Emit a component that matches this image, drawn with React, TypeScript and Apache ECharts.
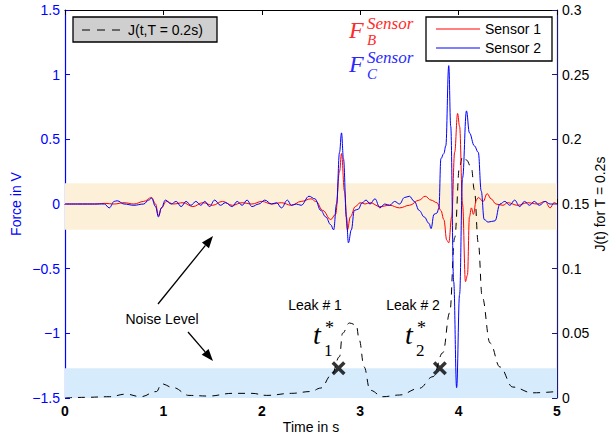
import React, { useEffect, useRef } from "react";
import * as echarts from "echarts";

const X_MIN = 0;
const X_MAX = 5;
const FORCE_MIN = -1.5;
const FORCE_MAX = 1.5;
const J_MIN = 0;
const J_MAX = 0.3;

const TIME_S1 = [0, 0.3, 0.4, 0.5, 0.6, 0.7, 0.8, 0.88, 0.92, 0.95, 0.98, 1.03, 1.1, 1.2, 1.3, 1.4, 1.5, 1.6, 1.7, 1.8, 1.9, 2.0, 2.1, 2.2, 2.3, 2.4, 2.5, 2.55, 2.62, 2.7, 2.75, 2.79, 2.81, 2.84, 2.87, 2.9, 2.95, 3.0, 3.05, 3.1, 3.2, 3.3, 3.4, 3.5, 3.6, 3.66, 3.72, 3.78, 3.82, 3.85, 3.88, 3.9, 3.93, 3.96, 3.99, 4.01, 4.04, 4.07, 4.09, 4.11, 4.13, 4.15, 4.18, 4.2, 4.25, 4.29, 4.33, 4.38, 4.45, 4.5, 4.6, 4.7, 4.8, 4.88, 4.93, 4.97, 5.0];
const SENSOR1 = [0, 0, 0.005, 0, 0.01, 0, 0.02, 0.05, 0.0, -0.09, -0.03, 0.02, 0.0, 0.01, -0.02, 0.01, -0.01, 0.02, -0.01, 0.01, 0.0, 0.02, 0.0, 0.01, -0.01, 0.02, 0.04, 0.02, -0.05, -0.12, -0.08, 0.25, 0.39, 0.1, -0.2, -0.1, -0.02, 0.01, 0.0, 0.01, -0.02, -0.01, -0.03, -0.01, 0.03, 0.06, 0.03, 0.01, -0.05, -0.12, -0.28, -0.3, -0.1, 0.4, 0.7, 0.6, 0.0, -0.6, -0.55, -0.1, -0.03, -0.08, 0.03, 0.05, 0.02, 0.08, 0.04, 0.0, -0.01, 0.01, -0.01, 0.01, 0.0, 0.02, -0.03, 0.01, 0.0];

const TIME_S2 = [0, 0.3, 0.4, 0.45, 0.5, 0.53, 0.6, 0.7, 0.8, 0.85, 0.88, 0.92, 0.95, 0.98, 1.02, 1.08, 1.13, 1.18, 1.23, 1.28, 1.33, 1.38, 1.42, 1.47, 1.52, 1.58, 1.63, 1.7, 1.75, 1.8, 1.85, 1.9, 1.97, 2.03, 2.1, 2.15, 2.2, 2.26, 2.3, 2.35, 2.4, 2.48, 2.54, 2.6, 2.65, 2.7, 2.73, 2.76, 2.79, 2.81, 2.83, 2.86, 2.88, 2.91, 2.94, 2.98, 3.02, 3.06, 3.1, 3.15, 3.2, 3.25, 3.3, 3.35, 3.4, 3.45, 3.5, 3.55, 3.6, 3.65, 3.7, 3.72, 3.75, 3.78, 3.8, 3.82, 3.85, 3.87, 3.9, 3.92, 3.95, 3.98, 4.01, 4.04, 4.08, 4.11, 4.16, 4.2, 4.23, 4.26, 4.3, 4.37, 4.42, 4.47, 4.52, 4.57, 4.62, 4.67, 4.72, 4.77, 4.82, 4.88, 4.93, 5.0];
const SENSOR2 = [0, 0, 0.0, -0.03, 0.02, 0.025, 0.0, -0.01, 0.0, 0.03, 0.045, -0.02, -0.1, -0.03, 0.03, 0.0, 0.02, -0.02, 0.02, -0.01, 0.02, -0.01, 0.02, -0.02, 0.03, -0.01, 0.01, -0.02, 0.02, -0.01, 0.03, -0.02, 0.0, 0.03, 0.0, 0.01, -0.03, 0.03, -0.01, 0.0, -0.01, 0.06, 0.04, -0.05, -0.1, -0.16, -0.2, 0.0, 0.4, 0.55, 0.35, -0.1, -0.3, -0.2, -0.05, -0.04, 0.01, 0.03, 0.0, 0.04, -0.03, 0.0, -0.01, 0.02, 0.0, 0.05, 0.06, 0.02, -0.05, -0.1, -0.15, -0.19, -0.08, -0.07, -0.03, 0.35, 0.39, 0.45, 1.07, 0.6, -0.6, -1.42, -0.7, 0.2, 0.72, 0.55, 0.45, 0.4, 0.1, -0.12, -0.14, -0.13, 0.0, 0.02, -0.01, 0.03, -0.02, 0.02, -0.01, 0.02, -0.01, 0.02, 0.0, 0.0];

const TIME_J = [0, 0.2, 0.45, 0.62, 0.77, 0.93, 0.98, 1.1, 1.26, 1.46, 1.7, 1.9, 2.05, 2.3, 2.5, 2.6, 2.71, 2.79, 2.82, 2.89, 2.96, 2.99, 3.04, 3.1, 3.23, 3.4, 3.6, 3.74, 3.84, 3.91, 3.96, 4.01, 4.04, 4.08, 4.13, 4.16, 4.2, 4.24, 4.32, 4.42, 4.55, 4.75, 5.0];
const J_VALUES = [0, 0.0005, 0.001, 0.003, 0.001, 0.005, 0.011, 0.008, 0.002, 0.0015, 0.0036, 0.0036, 0.002, 0.0036, 0.005, 0.0077, 0.018, 0.032, 0.05, 0.058, 0.0565, 0.045, 0.024, 0.006, 0.001, 0.0023, 0.0075, 0.0165, 0.035, 0.066, 0.124, 0.179, 0.1866, 0.184, 0.178, 0.161, 0.12, 0.078, 0.0425, 0.024, 0.0085, 0.004, 0.005];

const LEAK_TIMES = [2.78, 3.81];
const LEAK_THRESHOLD = 0.023;
const NOISE_BAND_FORCE = [-0.2, 0.16];
const NOISE_BAND_J = [0, 0.023];

const FONT = "Liberation Sans";
const SERIF = "Liberation Serif";

const zip = (xs: number[], ys: number[]) => xs.map((x, i) => [x, ys[i]]);
const fmtMinus = (v: number) => String(Number(v.toFixed(2))).replace("-", "\u2212");

export default function App() {
  const ref = useRef<HTMLDivElement>(null);
  useEffect(() => {
    if (!ref.current) return;
    const chart = echarts.init(ref.current, null, { renderer: "svg" });

    const xMark = "path://M0,3.5 L3.5,0 L10,6.5 L16.5,0 L20,3.5 L13.5,10 L20,16.5 L16.5,20 L10,13.5 L3.5,20 L0,16.5 L6.5,10 Z";

    const arrow = (x1: number, y1: number, x2: number, y2: number) => {
      const dx = x2 - x1, dy = y2 - y1;
      const len = Math.hypot(dx, dy);
      const ux = dx / len, uy = dy / len;
      const hl = 12, hw = 4.5;
      const bx = x2 - hl * ux, by = y2 - hl * uy;
      const nx = -uy, ny = ux;
      return [
        { type: "line", shape: { x1, y1, x2: bx, y2: by }, style: { stroke: "#000", lineWidth: 1.3 }, z: 100 },
        {
          type: "polygon",
          shape: { points: [[x2, y2], [bx + hw * nx, by + hw * ny], [bx - hw * nx, by - hw * ny]] },
          style: { fill: "#000" },
          z: 100,
        },
      ];
    };

    const tStar = (x: number, sub: string) => [
      { type: "text", x, y: 334, z: 100, style: { text: "t", font: `italic 28px ${SERIF}`, fill: "#000", textAlign: "left", textVerticalAlign: "middle" } },
      { type: "text", x: x + 11, y: 350, z: 100, style: { text: sub, font: `17px ${SERIF}`, fill: "#000", textAlign: "left", textVerticalAlign: "middle" } },
      { type: "text", x: x + 12, y: 328, z: 100, style: { text: "*", font: `18px ${SERIF}`, fill: "#000", textAlign: "left", textVerticalAlign: "middle" } },
    ];

    const fLabel = (y: number, sub: string, color: string) => [
      { type: "text", x: 349, y: y, z: 100, style: { text: "F", font: `italic 24px ${SERIF}`, fill: color, textAlign: "left", textVerticalAlign: "middle" } },
      { type: "text", x: 367, y: y - 7, z: 100, style: { text: "Sensor", font: `italic 17px ${SERIF}`, fill: color, textAlign: "left", textVerticalAlign: "middle" } },
      { type: "text", x: 367, y: y + 10, z: 100, style: { text: sub, font: `italic 15px ${SERIF}`, fill: color, textAlign: "left", textVerticalAlign: "middle" } },
    ];

    const option: any = {
      animation: false,
      backgroundColor: "#fff",
      grid: { left: 65, right: 53, top: 10, bottom: 40, show: false, containLabel: false, outerBoundsMode: "none" },
      xAxis: [
        {
          type: "value",
          min: X_MIN,
          max: X_MAX,
          interval: 1,
          name: "Time in s",
          nameLocation: "middle",
          nameGap: 22,
          nameMoveOverlap: false,
          nameTextStyle: { fontFamily: FONT, fontSize: 14, color: "#000" },
          axisLine: { show: true, lineStyle: { color: "#000", width: 1 } },
          axisTick: { show: true, inside: true, length: 5, lineStyle: { color: "#000" } },
          axisLabel: { fontFamily: FONT, fontSize: 14, color: "#000", fontWeight: "bold", margin: 6 },
          splitLine: { show: false },
        },
        {
          type: "value",
          position: "top",
          min: X_MIN,
          max: X_MAX,
          interval: 1,
          axisLine: { show: true, onZero: false, lineStyle: { color: "#000", width: 1 } },
          axisTick: { show: true, inside: true, length: 5, lineStyle: { color: "#000" } },
          axisLabel: { show: false },
          splitLine: { show: false },
        },
      ],
      yAxis: [
        {
          type: "value",
          min: FORCE_MIN,
          max: FORCE_MAX,
          interval: 0.5,
          position: "left",
          name: "Force in V",
          nameLocation: "middle",
          nameGap: 42,
          nameRotate: 90,
          nameMoveOverlap: false,
          nameTextStyle: { fontFamily: FONT, fontSize: 14, color: "#0000ff" },
          axisLine: { show: true, onZero: false, lineStyle: { color: "#0000ff", width: 1.2 } },
          axisTick: { show: true, inside: true, length: 5, lineStyle: { color: "#0000ff" } },
          axisLabel: { fontFamily: FONT, fontSize: 14, color: "#0000ff", margin: 5, formatter: (v: number) => fmtMinus(v) },
          splitLine: { show: false },
        },
        {
          type: "value",
          min: J_MIN,
          max: J_MAX,
          interval: 0.05,
          position: "right",
          name: "J(t) for T = 0.2s",
          nameLocation: "middle",
          nameGap: 36,
          nameRotate: 90,
          nameMoveOverlap: false,
          nameTextStyle: { fontFamily: FONT, fontSize: 14, color: "#000" },
          axisLine: { show: true, onZero: false, lineStyle: { color: "#1c1c78", width: 1.2 } },
          axisTick: { show: true, inside: true, length: 5, lineStyle: { color: "#1c1c78" } },
          axisLabel: { fontFamily: FONT, fontSize: 14, color: "#000", margin: 5, formatter: (v: number) => String(Number(v.toFixed(2))) },
          splitLine: { show: false },
        },
      ],
      series: [
        {
          name: "bands",
          type: "line",
          xAxisIndex: 0,
          yAxisIndex: 0,
          data: [[0, 0]],
          symbol: "none",
          lineStyle: { opacity: 0 },
          silent: true,
          z: 1,
          markArea: {
            silent: true,
            itemStyle: { color: "#fdf0d8" },
            data: [[{ yAxis: NOISE_BAND_FORCE[1] }, { yAxis: NOISE_BAND_FORCE[0] }]],
          },
        },
        {
          name: "bandJ",
          type: "line",
          xAxisIndex: 0,
          yAxisIndex: 1,
          data: [[0, 0]],
          symbol: "none",
          lineStyle: { opacity: 0 },
          silent: true,
          z: 1,
          markArea: {
            silent: true,
            itemStyle: { color: "#d6ebfb" },
            data: [[{ yAxis: NOISE_BAND_J[1] }, { yAxis: NOISE_BAND_J[0] }]],
          },
        },
        {
          name: "J(t,T = 0.2s)",
          type: "line",
          xAxisIndex: 0,
          yAxisIndex: 1,
          data: zip(TIME_J, J_VALUES),
          symbol: "none",
          smooth: 0.4,
          smoothMonotone: "x",
          lineStyle: { color: "#000", width: 1, type: [7, 6] },
          z: 3,
        },
        {
          name: "Sensor 1",
          type: "line",
          xAxisIndex: 0,
          yAxisIndex: 0,
          data: zip(TIME_S1, SENSOR1),
          symbol: "none",
          smooth: 0.4,
          smoothMonotone: "x",
          lineStyle: { color: "#ff0000", width: 1 },
          z: 4,
        },
        {
          name: "Sensor 2",
          type: "line",
          xAxisIndex: 0,
          yAxisIndex: 0,
          data: zip(TIME_S2, SENSOR2),
          symbol: "none",
          smooth: 0.4,
          smoothMonotone: "x",
          lineStyle: { color: "#0000ff", width: 1 },
          z: 5,
        },
        {
          name: "Leaks",
          type: "scatter",
          xAxisIndex: 0,
          yAxisIndex: 1,
          data: LEAK_TIMES.map((t) => [t, LEAK_THRESHOLD]),
          symbol: xMark,
          symbolSize: 14,
          itemStyle: { color: "#000" },
          z: 6,
        },
      ],
      graphic: [
        { type: "rect", shape: { x: 73, y: 17, width: 144, height: 25 }, style: { fill: "#cfcfcf", stroke: "#000", lineWidth: 1.3 }, z: 100 },
        { type: "line", shape: { x1: 82, y1: 30, x2: 124, y2: 30 }, style: { stroke: "#000", lineWidth: 1, lineDash: [8, 7] }, z: 101 },
        { type: "text", x: 128, y: 30, z: 101, style: { text: "J(t,T = 0.2s)", font: `14px ${FONT}`, fill: "#000", textAlign: "left", textVerticalAlign: "middle" } },
        { type: "rect", shape: { x: 426, y: 17, width: 126, height: 44 }, style: { fill: "#fff", stroke: "#000", lineWidth: 1.3 }, z: 100 },
        { type: "line", shape: { x1: 436, y1: 29, x2: 480, y2: 29 }, style: { stroke: "#ff0000", lineWidth: 1 }, z: 101 },
        { type: "text", x: 485, y: 29, z: 101, style: { text: "Sensor 1", font: `14px ${FONT}`, fill: "#000", textAlign: "left", textVerticalAlign: "middle" } },
        { type: "line", shape: { x1: 436, y1: 48, x2: 480, y2: 48 }, style: { stroke: "#0000ff", lineWidth: 1 }, z: 101 },
        { type: "text", x: 485, y: 48, z: 101, style: { text: "Sensor 2", font: `14px ${FONT}`, fill: "#000", textAlign: "left", textVerticalAlign: "middle" } },
        ...fLabel(30, "B", "#ff2a2a"),
        ...fLabel(64, "C", "#2a2aff"),
        { type: "text", x: 315, y: 305, z: 100, style: { text: "Leak # 1", font: `14px ${FONT}`, fill: "#000", textAlign: "center", textVerticalAlign: "middle" } },
        { type: "text", x: 413, y: 305, z: 100, style: { text: "Leak # 2", font: `14px ${FONT}`, fill: "#000", textAlign: "center", textVerticalAlign: "middle" } },
        ...tStar(313, "1"),
        ...tStar(405, "2"),
        { type: "text", x: 162, y: 319, z: 100, style: { text: "Noise Level", font: `14px ${FONT}`, fill: "#000", textAlign: "center", textVerticalAlign: "middle" } },
        ...arrow(158, 304, 213, 236),
        ...arrow(188, 332, 213, 361),
      ],
    };

    chart.setOption(option);
    return () => chart.dispose();
  }, []);

  return <div ref={ref} style={{ position: "fixed", left: 0, top: 0, width: 610, height: 438 }} />;
}
